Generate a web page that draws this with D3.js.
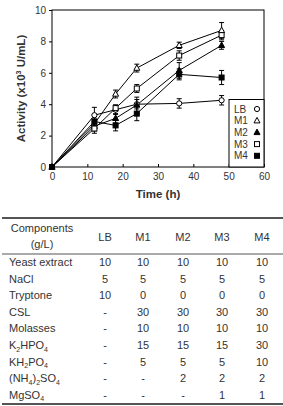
<!DOCTYPE html>
<html>
<head>
<meta charset="utf-8">
<script src="https://cdn.jsdelivr.net/npm/d3@7"></script>
<style>
  body { margin: 0; background: #fff; }
  svg { display: block; font-family: "Liberation Sans", Arial, sans-serif; }
</style>
</head>
<body>
<svg id="chart" width="283" height="406"></svg>
<script>
// time points (h)
const times = [0, 12, 18, 24, 36, 48];

// activity values (x10^3 U/mL)
const lbVals = [0, 3.3, 3.65, 4.0, 4.05, 4.25];
const m1Vals = [0, 2.75, 4.65, 6.3, 7.75, 8.7];
const m2Vals = [0, 2.6, 3.1, 3.95, 6.15, 7.75];
const m3Vals = [0, 2.45, 3.75, 5.0, 7.1, 8.4];
const m4Vals = [0, 2.9, 2.65, 3.4, 5.9, 5.7];

// error bars (+/-)
const lbErr = [0, 0.5, 0.3, 0.3, 0.3, 0.3];
const m1Err = [0, 0.3, 0.25, 0.25, 0.2, 0.5];
const m2Err = [0, 0.3, 0.3, 0.5, 0.5, 0.25];
const m3Err = [0, 0.3, 0.2, 0.25, 0.3, 0.3];
const m4Err = [0, 0.45, 0.35, 0.45, 0.35, 0.45];

const seriesNames = ['LB', 'M1', 'M2', 'M3', 'M4'];
const seriesSymbols = ['circle', 'triangleOpen', 'triangle', 'squareOpen', 'square'];

const xTicks = [0, 10, 20, 30, 40, 50, 60];
const yTicks = [0, 2, 4, 6, 8, 10];

// table contents ("_" marks a subscript digit)
const tableHead = ['LB', 'M1', 'M2', 'M3', 'M4'];
const components = ['Yeast extract', 'NaCl', 'Tryptone', 'CSL', 'Molasses',
  'K_2HPO_4', 'KH_2PO_4', '(NH_4)_2SO_4', 'MgSO_4'];
const colLB = ['10', '5', '10', '-', '-', '-', '-', '-', '-'];
const colM1 = ['10', '5', '0', '30', '10', '15', '5', '-', '-'];
const colM2 = ['10', '5', '0', '30', '10', '15', '5', '2', '-'];
const colM3 = ['10', '5', '0', '30', '10', '15', '5', '2', '1'];
const colM4 = ['10', '5', '0', '30', '10', '30', '10', '2', '1'];

const svg = d3.select('#chart');
const textColor = '#333';

const x = d3.scaleLinear().domain([0, 60]).range([52, 264]);
const y = d3.scaleLinear().domain([0, 10]).range([167, 10]);

const series = [
  { vals: lbVals, err: lbErr },
  { vals: m1Vals, err: m1Err },
  { vals: m2Vals, err: m2Err },
  { vals: m3Vals, err: m3Err },
  { vals: m4Vals, err: m4Err }
].map((s, i) => ({ ...s, name: seriesNames[i], symbol: seriesSymbols[i] }));

// axes
const xAxis = svg.append('g')
  .attr('transform', `translate(0,${y(0)})`)
  .call(d3.axisBottom(x).tickValues(xTicks).tickSizeInner(-3).tickSizeOuter(0).tickPadding(6));
const yAxis = svg.append('g')
  .attr('transform', `translate(${x(0)},0)`)
  .call(d3.axisLeft(y).tickValues(yTicks).tickSizeInner(3).tickSizeOuter(0).tickPadding(3));
[xAxis, yAxis].forEach(a => {
  a.select('.domain').remove();
  a.selectAll('line').attr('stroke', '#000');
  a.selectAll('text').attr('font-size', 10).attr('fill', textColor)
    .attr('font-family', '"Liberation Sans", Arial, sans-serif');
});

// frame
svg.append('rect')
  .attr('x', x(0)).attr('y', y(10))
  .attr('width', x(60) - x(0)).attr('height', y(0) - y(10))
  .attr('fill', 'none').attr('stroke', '#000').attr('stroke-width', 1);

// axis titles
svg.append('text')
  .attr('transform', `translate(25,${(y(0) + y(10)) / 2}) rotate(-90)`)
  .attr('text-anchor', 'middle')
  .attr('font-size', 11.5).attr('font-weight', 'bold').attr('fill', textColor)
  .call(t => {
    t.append('tspan').text('Activity (x10');
    t.append('tspan').text('3').attr('font-size', 7).attr('dy', -4);
    t.append('tspan').text(' U/mL)').attr('dy', 4);
  });
svg.append('text')
  .attr('x', (x(0) + x(60)) / 2).attr('y', 198)
  .attr('text-anchor', 'middle')
  .attr('font-size', 11.5).attr('font-weight', 'bold').attr('fill', textColor)
  .text('Time (h)');

// symbol drawing
function drawSymbol(g, kind, cx, cy) {
  if (kind === 'circle') {
    g.append('circle').attr('cx', cx).attr('cy', cy).attr('r', 2.6)
      .attr('fill', '#fff').attr('stroke', '#000').attr('stroke-width', 1);
  } else if (kind === 'squareOpen' || kind === 'square') {
    g.append('rect').attr('x', cx - 2.5).attr('y', cy - 2.5).attr('width', 5).attr('height', 5)
      .attr('fill', kind === 'square' ? '#000' : '#fff').attr('stroke', '#000').attr('stroke-width', 1);
  } else {
    const pts = [[cx, cy - 3.3], [cx + 3, cy + 2.2], [cx - 3, cy + 2.2]];
    g.append('polygon').attr('points', pts.map(p => p.join(',')).join(' '))
      .attr('fill', kind === 'triangle' ? '#000' : '#fff').attr('stroke', '#000').attr('stroke-width', 1);
  }
}

const line = d3.line().x((d, i) => x(times[i])).y(d => y(d));
const plot = svg.append('g');

// lines first
series.forEach(s => {
  plot.append('path').datum(s.vals).attr('d', line)
    .attr('fill', 'none').attr('stroke', '#000').attr('stroke-width', 1);
});

// error bars and markers
series.forEach(s => {
  const g = plot.append('g');
  s.vals.forEach((v, i) => {
    const e = s.err[i];
    if (e > 0) {
      const cx = x(times[i]);
      g.append('line').attr('x1', cx).attr('x2', cx).attr('y1', y(v - e)).attr('y2', y(v + e))
        .attr('stroke', '#000').attr('stroke-width', 1);
      [v - e, v + e].forEach(w => {
        g.append('line').attr('x1', cx - 2.5).attr('x2', cx + 2.5).attr('y1', y(w)).attr('y2', y(w))
          .attr('stroke', '#000').attr('stroke-width', 1);
      });
    }
  });
});
series.forEach(s => {
  const g = plot.append('g');
  s.vals.forEach((v, i) => drawSymbol(g, s.symbol, x(times[i]), y(v)));
});

// legend
const legend = svg.append('g');
legend.append('rect').attr('x', 229).attr('y', 99.5).attr('width', x(60) - 229).attr('height', y(0) - 99.5)
  .attr('fill', '#fff').attr('stroke', '#000').attr('stroke-width', 1);
series.forEach((s, i) => {
  const cy = 109 + i * 11.7;
  legend.append('text').attr('x', 234).attr('y', cy + 3.6)
    .attr('font-size', 10).attr('fill', textColor).text(s.name);
  drawSymbol(legend, s.symbol, 257, cy);
});

// table
const table = svg.append('g');
const colX = [105, 143, 183, 222, 262];
const tableCols = [colLB, colM1, colM2, colM3, colM4];
table.append('line').attr('x1', 2).attr('x2', 283).attr('y1', 218).attr('y2', 218)
  .attr('stroke', '#555').attr('stroke-width', 2);
table.append('line').attr('x1', 2).attr('x2', 283).attr('y1', 254).attr('y2', 254)
  .attr('stroke', '#555').attr('stroke-width', 1);
table.append('line').attr('x1', 2).attr('x2', 283).attr('y1', 404).attr('y2', 404)
  .attr('stroke', '#555').attr('stroke-width', 2);

table.append('text').attr('x', 42).attr('y', 232).attr('text-anchor', 'middle')
  .attr('font-size', 11).attr('fill', textColor).text('Components');
table.append('text').attr('x', 42).attr('y', 248).attr('text-anchor', 'middle')
  .attr('font-size', 11).attr('fill', textColor).text('(g/L)');
tableHead.forEach((h, j) => {
  table.append('text').attr('x', colX[j]).attr('y', 241).attr('text-anchor', 'middle')
    .attr('font-size', 11).attr('fill', textColor).text(h);
});

components.forEach((c, r) => {
  const ty = 266 + r * 16.6;
  const t = table.append('text').attr('x', 9).attr('y', ty)
    .attr('font-size', 11).attr('fill', textColor);
  // split into normal text and subscript digits
  const parts = c.split(/(_\d)/).filter(p => p.length);
  let sub = false;
  parts.forEach(p => {
    if (p.startsWith('_')) {
      t.append('tspan').text(p.slice(1)).attr('font-size', 7).attr('dy', sub ? 0 : 2.5);
      sub = true;
    } else {
      t.append('tspan').text(p).attr('dy', sub ? -2.5 : 0);
      sub = false;
    }
  });
  tableCols.forEach((col, j) => {
    table.append('text').attr('x', colX[j]).attr('y', ty).attr('text-anchor', 'middle')
      .attr('font-size', 11).attr('fill', textColor).text(col[r]);
  });
});
</script>
</body>
</html>
